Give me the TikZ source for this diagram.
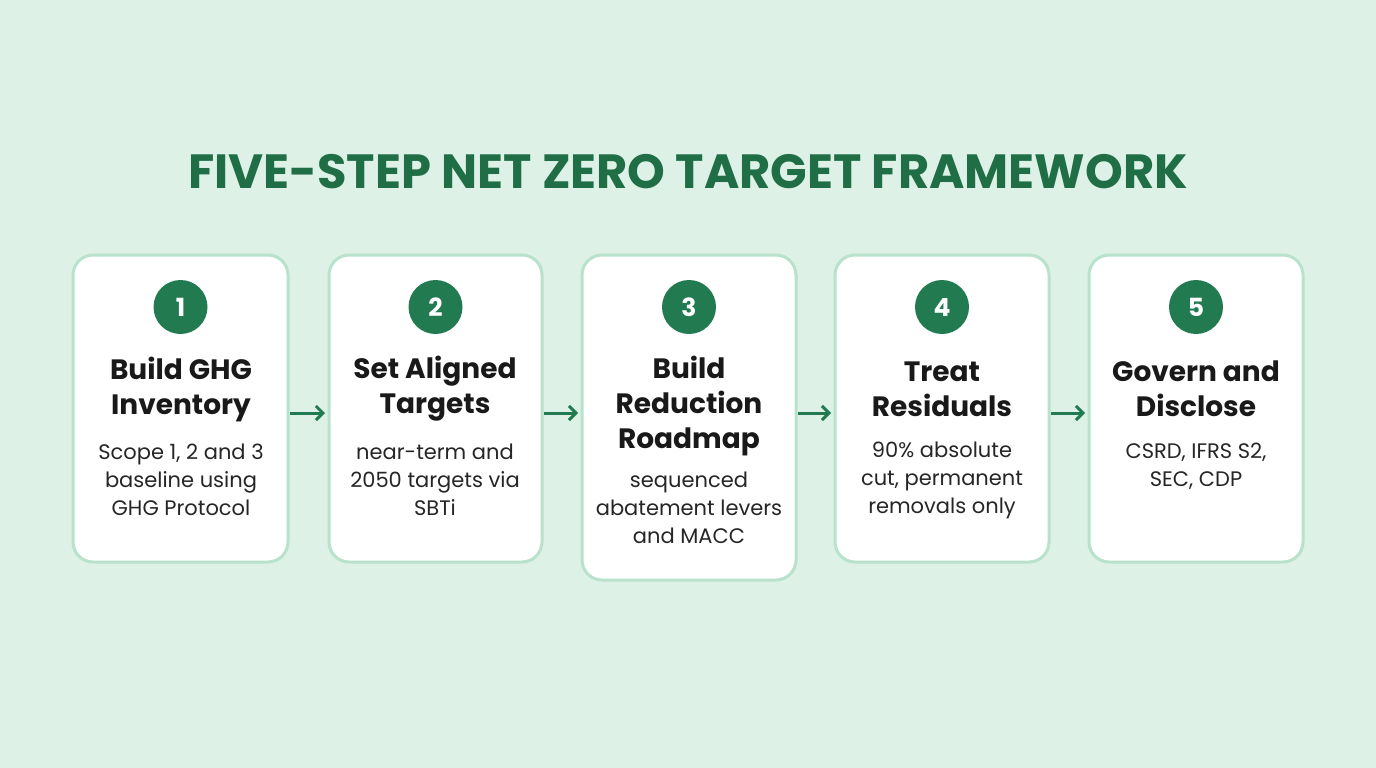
\documentclass[tikz,border=0pt]{standalone}
\usepackage{fontspec}
\setmainfont{Poppins}
\usetikzlibrary{arrows.meta}
\definecolor{bg}{HTML}{DDF1E6}
\definecolor{bd}{HTML}{B8E2CC}
\definecolor{dg}{HTML}{217A50}
\definecolor{tg}{HTML}{1F6E45}
\begin{document}
\begin{tikzpicture}[x=1pt,y=-1pt,
 box/.style={draw=bd,line width=3pt,fill=white,rounded corners=20pt},
 num/.style={circle,fill=dg,minimum size=54pt,inner sep=0pt,text=white,font=\fontsize{25}{25}\selectfont\bfseries},
 head/.style={align=center,font=\fontsize{28}{35}\selectfont\bfseries,text=black!90},
 body/.style={align=center,font=\fontsize{21}{28}\selectfont,text=black!85},
 arr/.style={-{Straight Barb[length=7pt,width=14pt]},draw=dg,line width=3pt}]
\fill[bg] (0,0) rectangle (1376,768);
\useasboundingbox (0,0) rectangle (1376,768);
\node[font=\fontsize{48}{48}\selectfont\bfseries,text=tg] (title) at (688,172) {FIVE-STEP NET ZERO TARGET FRAMEWORK};
\foreach \i/\xa/\xb/\yb in {1/73/288/562,2/329/542/562,3/582/796/580,4/835/1049/562,5/1089/1303/562}{
 \draw[box] (\xa,255) rectangle (\xb,\yb);
 \node[num] (n\i) at ({(\xa+\xb)/2},307) {\i};
 \coordinate (L\i) at (\xa,413); \coordinate (R\i) at (\xb,413);
}
\node[head] (h1) at (181,389) {Build GHG\\Inventory};
\node[body] (b1) at (181,480) {Scope 1, 2 and 3\\baseline using\\GHG Protocol};
\node[head] (h2) at (435,389) {Set Aligned\\Targets};
\node[body] (b2) at (435,480) {near-term and\\2050 targets via\\SBTi};
\node[head] (h3) at (689,406) {Build\\Reduction\\Roadmap};
\node[body] (b3) at (689,508) {sequenced\\abatement levers\\and MACC};
\node[head] (h4) at (942,389) {Treat\\Residuals};
\node[body] (b4) at (942,480) {90\% absolute\\cut, permanent\\removals only};
\node[head] (h5) at (1196,389) {Govern and\\Disclose};
\node[body] (b5) at (1196,466) {CSRD, IFRS S2,\\SEC, CDP};
\foreach \a/\b in {1/2,2/3,3/4,4/5}{
 \draw[arr] ([xshift=2pt]R\a) -- ([xshift=-4pt]L\b);
}
\end{tikzpicture}
\end{document}
